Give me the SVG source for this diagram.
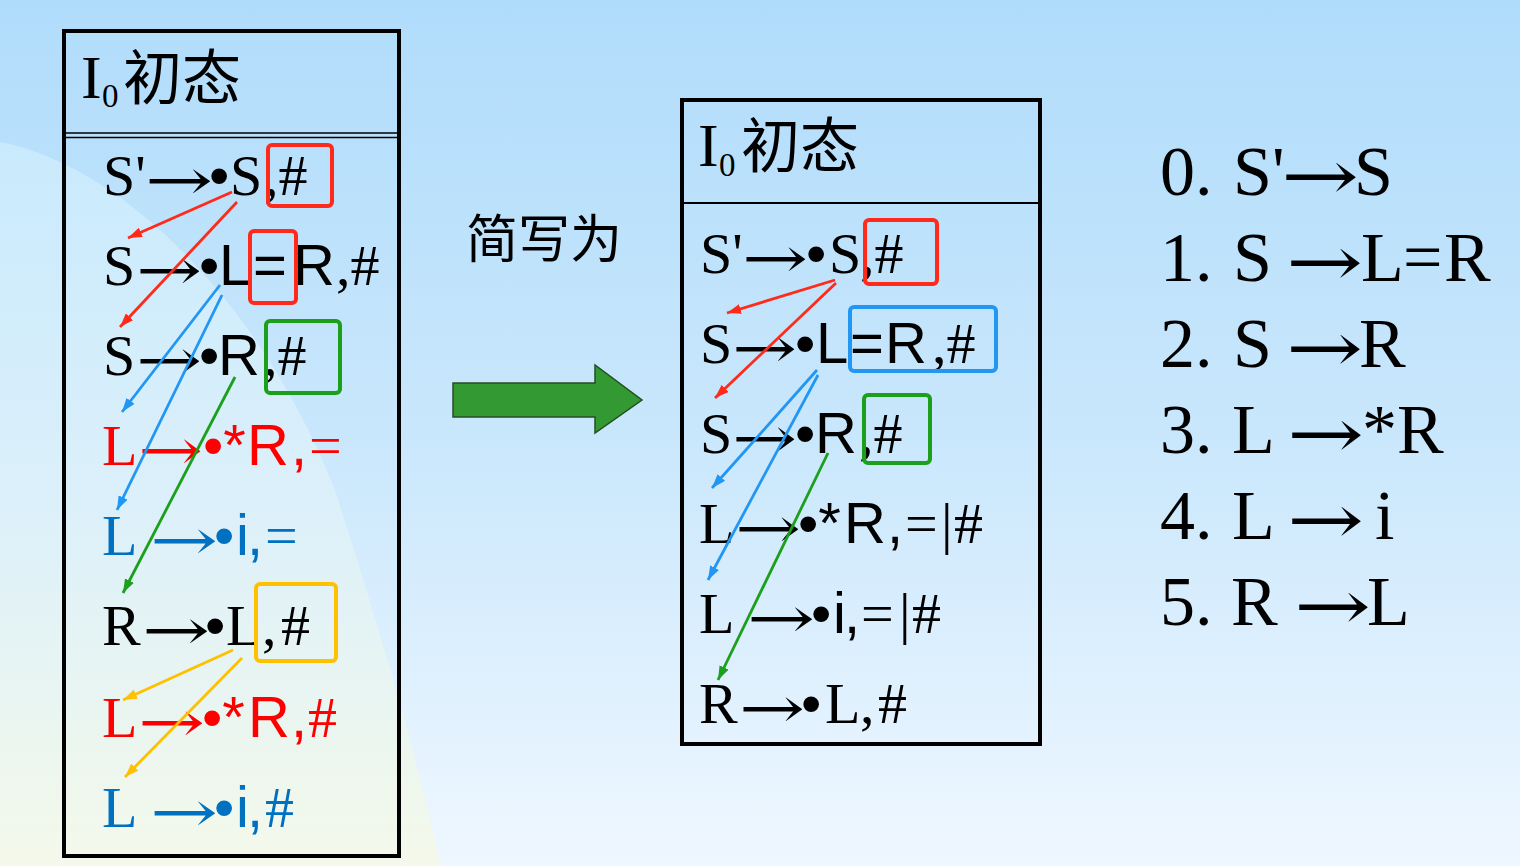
<svg xmlns="http://www.w3.org/2000/svg" width="1520" height="866" viewBox="0 0 1520 866">
<defs>
<linearGradient id="bg" x1="0" y1="0" x2="0" y2="1">
<stop offset="0" stop-color="#b0dcfb"/>
<stop offset="0.5" stop-color="#c9e7fc"/>
<stop offset="1" stop-color="#eff7ff"/>
</linearGradient>
<linearGradient id="sw" x1="0" y1="0" x2="0" y2="1">
<stop offset="0" stop-color="#c9eafd"/>
<stop offset="0.5" stop-color="#dcf0fa"/>
<stop offset="1" stop-color="#f4f9ea"/>
</linearGradient>
<marker id="mr" markerWidth="14" markerHeight="10" refX="14" refY="5" orient="auto" markerUnits="userSpaceOnUse"><path d="M0,0 L14,5 L0,10 z" fill="#ff2a1a"/></marker>
<marker id="mb" markerWidth="14" markerHeight="10" refX="14" refY="5" orient="auto" markerUnits="userSpaceOnUse"><path d="M0,0 L14,5 L0,10 z" fill="#2196f3"/></marker>
<marker id="mg" markerWidth="14" markerHeight="10" refX="14" refY="5" orient="auto" markerUnits="userSpaceOnUse"><path d="M0,0 L14,5 L0,10 z" fill="#1ca01c"/></marker>
<marker id="mo" markerWidth="14" markerHeight="10" refX="14" refY="5" orient="auto" markerUnits="userSpaceOnUse"><path d="M0,0 L14,5 L0,10 z" fill="#ffc000"/></marker>
</defs>
<style>
.t{font-family:"Liberation Serif","Times New Roman",serif;font-size:58px;fill:#000}
.ar{font-family:"DejaVu Serif",serif;font-size:58px;fill:#000}
.a{font-family:"Liberation Sans",Arial,sans-serif}
.cjk{font-family:"Noto Sans CJK SC","Noto Sans CJK JP",sans-serif;fill:#000}
.r{fill:#ff0000}
.b{fill:#0070c0}
.g{font-size:70px}
.ti{font-size:62px}
.sub{font-size:33px}
.box{fill:none;stroke:#000;stroke-width:4}
.hl{fill:none;stroke-width:4}
.cn line{stroke-width:2.8}
</style>

<g id="background">
<rect x="0" y="0" width="1520" height="866" fill="url(#bg)"/>
<path d="M0,142 C120,165 260,300 335,490 C370,600 420,760 440,866 L0,866 Z" fill="url(#sw)"/>
</g>

<g id="state-full">
<rect class="box" x="64" y="31" width="335" height="825"/>
<line x1="64" y1="133" x2="399" y2="133" stroke="#000" stroke-width="1.6"/>
<line x1="64" y1="137.5" x2="399" y2="137.5" stroke="#000" stroke-width="1.6"/>
<text class="t ti" x="81" y="98">I</text>
<text class="t sub" x="102" y="107">0</text>
<text class="cjk" x="123" y="99" font-size="59">初态</text>
<text class="t" y="195"><tspan x="103">S'</tspan><tspan class="a" x="209">•</tspan><tspan x="230">S</tspan><tspan x="264">,#</tspan></text>
<text class="ar" x="145" y="200" textLength="68" lengthAdjust="spacingAndGlyphs">→</text>
<text class="t" y="285"><tspan x="103">S</tspan><tspan class="a" x="199">•</tspan><tspan class="a" x="219">L</tspan><tspan class="a" x="253">=</tspan><tspan class="a" x="293">R</tspan><tspan x="336">,#</tspan></text>
<text class="ar" x="136" y="290" textLength="66" lengthAdjust="spacingAndGlyphs">→</text>
<text class="t" y="375"><tspan x="103">S</tspan><tspan class="a" x="199">•</tspan><tspan class="a" x="218">R</tspan><tspan x="263">,#</tspan></text>
<text class="ar" x="136" y="380" textLength="66" lengthAdjust="spacingAndGlyphs">→</text>
<text class="t r" y="465"><tspan x="102">L</tspan><tspan class="a" x="203">•*</tspan><tspan class="a" x="247">R</tspan><tspan class="a" x="291">,</tspan><tspan x="309">=</tspan></text>
<text class="ar r" x="138" y="470" textLength="65" lengthAdjust="spacingAndGlyphs">→</text>
<text class="t b" y="555"><tspan x="102">L</tspan><tspan class="a" x="214">•</tspan><tspan class="a" x="236">i</tspan><tspan class="a" x="247">,</tspan><tspan x="265">=</tspan></text>
<text class="ar b" x="150" y="560" textLength="68" lengthAdjust="spacingAndGlyphs">→</text>
<text class="t" y="645"><tspan x="102">R</tspan><tspan class="a" x="205">•</tspan><tspan x="226">L</tspan><tspan x="262">,</tspan><tspan x="281">#</tspan></text>
<text class="ar" x="142" y="650" textLength="68" lengthAdjust="spacingAndGlyphs">→</text>
<text class="t r" y="737"><tspan x="102">L</tspan><tspan class="a" x="202">•*</tspan><tspan class="a" x="248">R</tspan><tspan class="a" x="291">,</tspan><tspan x="308">#</tspan></text>
<text class="ar r" x="138" y="742" textLength="67" lengthAdjust="spacingAndGlyphs">→</text>
<text class="t b" y="827"><tspan x="102">L</tspan><tspan class="a" x="214">•</tspan><tspan class="a" x="236">i</tspan><tspan class="a" x="247">,</tspan><tspan x="265">#</tspan></text>
<text class="ar b" x="150" y="832" textLength="68" lengthAdjust="spacingAndGlyphs">→</text>
<rect class="hl" x="268" y="145" width="64" height="61" rx="4" stroke="#ff2a1a"/>
<rect class="hl" x="250" y="231" width="46" height="72" rx="4" stroke="#ff2a1a"/>
<rect class="hl" x="266" y="321" width="74" height="72" rx="4" stroke="#1ca01c"/>
<rect class="hl" x="256" y="584" width="80" height="77" rx="4" stroke="#ffc000"/>
</g>

<g id="shorthand-label">
<text class="cjk" x="466" y="258" font-size="52">简写为</text>
</g>

<g id="shorthand-arrow">
<polygon points="453,383 595,383 595,365 642,400 595,433 595,417 453,417" fill="#339933" stroke="#234f23" stroke-width="1.5"/>
</g>

<g id="state-short">
<rect class="box" x="682" y="100" width="358" height="644"/>
<line x1="682" y1="203" x2="1040" y2="203" stroke="#000" stroke-width="2"/>
<text class="t ti" x="698" y="166">I</text>
<text class="t sub" x="719" y="176">0</text>
<text class="cjk" x="741" y="167" font-size="59">初态</text>
<text class="t" y="273"><tspan x="700">S'</tspan><tspan class="a" x="806">•</tspan><tspan x="829">S</tspan><tspan x="860">,#</tspan></text>
<text class="ar" x="742" y="278" textLength="66" lengthAdjust="spacingAndGlyphs">→</text>
<text class="t" y="363"><tspan x="700">S</tspan><tspan class="a" x="795">•</tspan><tspan class="a" x="816">L</tspan><tspan class="a" x="850">=</tspan><tspan class="a" x="885">R</tspan><tspan x="932">,#</tspan></text>
<text class="ar" x="732" y="368" textLength="65" lengthAdjust="spacingAndGlyphs">→</text>
<text class="t" y="453"><tspan x="700">S</tspan><tspan class="a" x="795">•</tspan><tspan class="a" x="815">R</tspan><tspan x="859">,#</tspan></text>
<text class="ar" x="732" y="458" textLength="65" lengthAdjust="spacingAndGlyphs">→</text>
<text class="t" y="543"><tspan x="699">L</tspan><tspan class="a" x="798">•*</tspan><tspan class="a" x="844">R</tspan><tspan class="a" x="887">,</tspan><tspan x="905">=</tspan><tspan x="941">|</tspan><tspan x="954">#</tspan></text>
<text class="ar" x="735" y="548" textLength="66" lengthAdjust="spacingAndGlyphs">→</text>
<text class="t" y="633"><tspan x="699">L</tspan><tspan class="a" x="811">•</tspan><tspan class="a" x="833">i</tspan><tspan class="a" x="844">,</tspan><tspan x="861">=</tspan><tspan x="899">|</tspan><tspan x="912">#</tspan></text>
<text class="ar" x="747" y="638" textLength="68" lengthAdjust="spacingAndGlyphs">→</text>
<text class="t" y="723"><tspan x="699">R</tspan><tspan class="a" x="801">•</tspan><tspan x="825">L</tspan><tspan x="860">,</tspan><tspan x="878">#</tspan></text>
<text class="ar" x="739" y="728" textLength="66" lengthAdjust="spacingAndGlyphs">→</text>
<rect class="hl" x="865" y="220" width="72" height="64" rx="4" stroke="#ff2a1a"/>
<rect class="hl" x="850" y="307" width="146" height="64" rx="4" stroke="#2196f3"/>
<rect class="hl" x="864" y="395" width="66" height="68" rx="4" stroke="#1ca01c"/>
</g>

<g id="grammar">
<text class="t g" y="195"><tspan x="1160">0.</tspan><tspan x="1233">S'</tspan><tspan x="1354">S</tspan></text>
<text class="ar g" x="1281" y="200" textLength="78" lengthAdjust="spacingAndGlyphs">→</text>
<text class="t g" y="281"><tspan x="1160">1.</tspan><tspan x="1233">S</tspan><tspan x="1361">L</tspan><tspan x="1403">=</tspan><tspan x="1444">R</tspan></text>
<text class="ar g" x="1286" y="286" textLength="77" lengthAdjust="spacingAndGlyphs">→</text>
<text class="t g" y="367"><tspan x="1160">2.</tspan><tspan x="1233">S</tspan><tspan x="1359">R</tspan></text>
<text class="ar g" x="1286" y="372" textLength="77" lengthAdjust="spacingAndGlyphs">→</text>
<text class="t g" y="453"><tspan x="1160">3.</tspan><tspan x="1232">L</tspan><tspan x="1362">*</tspan><tspan x="1397">R</tspan></text>
<text class="ar g" x="1287" y="458" textLength="77" lengthAdjust="spacingAndGlyphs">→</text>
<text class="t g" y="539"><tspan x="1160">4.</tspan><tspan x="1232">L</tspan><tspan x="1375">i</tspan></text>
<text class="ar g" x="1287" y="544" textLength="77" lengthAdjust="spacingAndGlyphs">→</text>
<text class="t g" y="625"><tspan x="1160">5.</tspan><tspan x="1231">R</tspan><tspan x="1367">L</tspan></text>
<text class="ar g" x="1294" y="630" textLength="77" lengthAdjust="spacingAndGlyphs">→</text>
</g>

<g id="connectors" class="cn">
<line x1="232" y1="192" x2="128" y2="238" stroke="#ff2a1a" marker-end="url(#mr)"/>
<line x1="237" y1="202" x2="120" y2="327" stroke="#ff2a1a" marker-end="url(#mr)"/>
<line x1="220" y1="285" x2="122" y2="412" stroke="#2196f3" marker-end="url(#mb)"/>
<line x1="222" y1="295" x2="117" y2="510" stroke="#2196f3" marker-end="url(#mb)"/>
<line x1="235" y1="377" x2="123" y2="593" stroke="#1ca01c" marker-end="url(#mg)"/>
<line x1="233" y1="650" x2="123" y2="700" stroke="#ffc000" marker-end="url(#mo)"/>
<line x1="242" y1="658" x2="125" y2="777" stroke="#ffc000" marker-end="url(#mo)"/>
<line x1="835" y1="280" x2="727" y2="313" stroke="#ff2a1a" marker-end="url(#mr)"/>
<line x1="836" y1="283" x2="715" y2="398" stroke="#ff2a1a" marker-end="url(#mr)"/>
<line x1="817" y1="370" x2="712" y2="488" stroke="#2196f3" marker-end="url(#mb)"/>
<line x1="818" y1="375" x2="708" y2="580" stroke="#2196f3" marker-end="url(#mb)"/>
<line x1="828" y1="453" x2="718" y2="680" stroke="#1ca01c" marker-end="url(#mg)"/>
</g>
</svg>
